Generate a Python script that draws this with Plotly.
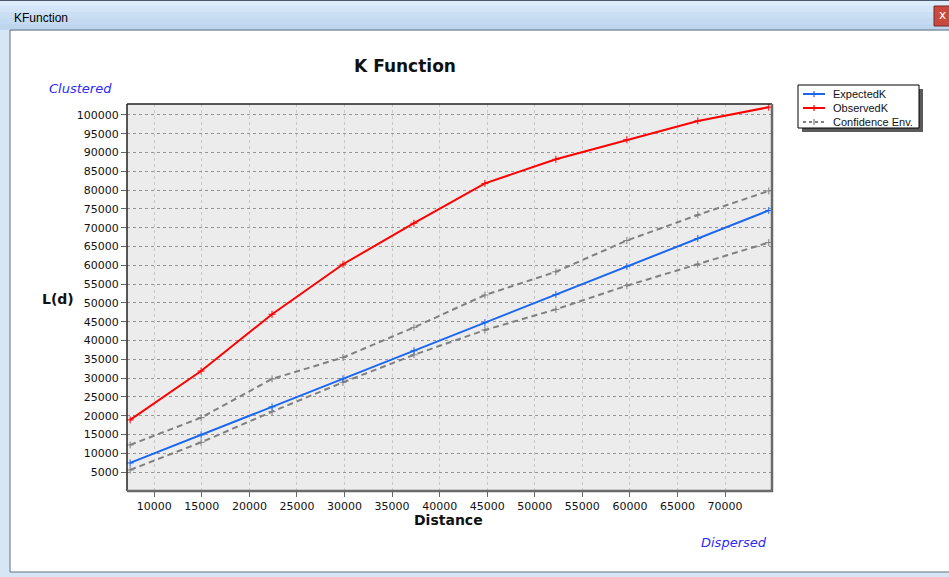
import plotly.graph_objects as go

# ---- data: L(d) against distance ----
distance = [7460, 14920, 22380, 29840, 37300, 44760, 52220, 59680, 67140, 74600]
expected_k = [7460, 14920, 22380, 29840, 37300, 44760, 52220, 59680, 67140, 74600]
observed_k = [18900, 31900, 47000, 60300, 71200, 81800, 88200, 93400, 98400, 102050]
conf_upper = [12250, 19500, 29800, 35500, 43500, 52100, 58300, 66600, 73400, 79800]
conf_lower = [5600, 12950, 21100, 28900, 36200, 42800, 48300, 54600, 60300, 66050]

x_ticks = list(range(10000, 70001, 5000))
y_ticks = list(range(5000, 100001, 5000))

W, H = 949, 577
L, R, T, B = 127, 772, 104, 491
PW, PH = R - L, B - T


def px(x):
    return (x - L) / PW


def py(y):
    return (B - y) / PH


BLUE = "#1a66ee"
RED = "#ff0000"
GREY = "#808080"
TXT = "#111111"

fig = go.Figure()


def add_series(y, color, name, dash="solid"):
    fig.add_trace(go.Scatter(
        x=distance, y=y, name=name, mode="lines+markers",
        line=dict(color=color, width=2, dash=dash),
        marker=dict(symbol="cross-thin", size=5, line=dict(color=color, width=1)),
        showlegend=False, cliponaxis=False,
    ))


add_series(conf_upper, GREY, "Confidence Env.", "6px,4px")
add_series(conf_lower, GREY, "Confidence Env.", "6px,4px")
add_series(expected_k, BLUE, "ExpectedK")
add_series(observed_k, RED, "ObservedK")

shapes = []


def rect(x0, y0, x1, y1, fill=None, line=None, lw=1, layer="above"):
    shapes.append(dict(
        type="rect", xref="paper", yref="paper",
        x0=px(x0), x1=px(x1), y0=py(y1), y1=py(y0),
        fillcolor=fill if fill else "rgba(0,0,0,0)",
        line=dict(color=line if line else "rgba(0,0,0,0)", width=lw if line else 0),
        layer=layer,
    ))


def hline(x0, x1, y, color, lw=1, dash="solid"):
    shapes.append(dict(type="line", xref="paper", yref="paper",
                       x0=px(x0), x1=px(x1), y0=py(y), y1=py(y),
                       line=dict(color=color, width=lw, dash=dash)))


def vline(x, y0, y1, color, lw=1):
    shapes.append(dict(type="line", xref="paper", yref="paper",
                       x0=px(x), x1=px(x), y0=py(y0), y1=py(y1),
                       line=dict(color=color, width=lw)))


# window frame and title bar
bands = ["#dcebf9", "#d3e5f6", "#cadff3", "#c3daf0", "#bdd5ed"]
bh = 30 / len(bands)
for i, c in enumerate(bands):
    rect(0, i * bh, W, (i + 1) * bh + 0.5, fill=c)
hline(0, W, 0.5, "#4a5a6a")
rect(0, 30, 10, H, fill="#d6e6f5")
rect(0, 572, W, H, fill="#d6e6f5")
rect(10, 30, W + 5, 572, line="#5f6f80", lw=1)
rect(934, 6, W + 5, 26, fill="#c9493f", line="#7a2a24", lw=1)

# plot border
hline(L, R, T, "#222222", 1.5)
vline(L, T, B, "#222222", 1.5)
vline(R, T, B + 1, "#6a6a6a", 2.5)
hline(L, R + 1, B, "#6a6a6a", 2.5)

# legend box with drop shadow
rect(802, 89, 923, 132, fill="#5a5a5a")
rect(798, 85, 919, 128, fill="#ffffff", line="#000000", lw=1)
leg = [("ExpectedK", BLUE, "solid", 94), ("ObservedK", RED, "solid", 108),
       ("Confidence Env.", GREY, "3px,3px", 122)]
for _, col, dsh, yy in leg:
    hline(803, 825, yy, col, 2, dsh)
    vline(814, yy - 3, yy + 3, col, 1.2)

annotations = [
    dict(text="<b>L(d)</b>", x=px(58), y=py(299), font=dict(size=14, color=TXT, family="DejaVu Sans")),
    dict(text="<b>Distance</b>", x=px(448), y=py(520), font=dict(size=14, color=TXT, family="DejaVu Sans")),
    dict(text="<i>Clustered</i>", x=px(80), y=py(89), font=dict(size=13, color="#2b2bf2", family="DejaVu Sans")),
    dict(text="<i>Dispersed</i>", x=px(734), y=py(542), font=dict(size=13, color="#2b2bf2", family="DejaVu Sans")),
    dict(text="KFunction", x=px(12), y=py(18), xanchor="left",
         font=dict(size=12, color="#000000", family="Liberation Sans")),
    dict(text="x", x=px(942), y=py(15), font=dict(size=12, color="#ffffff", family="DejaVu Sans")),
]
for name, col, _, yy in leg:
    annotations.append(dict(text=name, x=px(831), y=py(yy), xanchor="left",
                            font=dict(size=11, color=TXT, family="Liberation Sans")))
for a in annotations:
    a.setdefault("xanchor", "center")
    a.update(xref="paper", yref="paper", yanchor="middle", showarrow=False)

fig.update_layout(
    width=W, height=H, autosize=False,
    margin=dict(l=L, r=W - R, t=T, b=H - B, pad=0),
    paper_bgcolor="#ffffff", plot_bgcolor="#ececec",
    title=dict(text="<b>K Function</b>", x=405 / W, xref="container", xanchor="center",
               y=1 - 66 / H, yref="container", yanchor="middle",
               font=dict(size=17, color=TXT, family="DejaVu Sans")),
    font=dict(family="DejaVu Sans", size=11, color=TXT),
    shapes=shapes, annotations=annotations,
    xaxis=dict(range=[7130, 74940], tickvals=x_ticks, ticktext=[str(v) for v in x_ticks],
               ticks="outside", ticklen=5, tickcolor="#666666", showline=False, zeroline=False,
               showgrid=True, gridcolor="#c8c8c8", griddash="dot", gridwidth=1,
               tickfont=dict(size=11, color=TXT, family="DejaVu Sans")),
    yaxis=dict(range=[0, 102900], tickvals=y_ticks, ticktext=[str(v) for v in y_ticks],
               ticks="outside", ticklen=5, tickcolor="#666666", showline=False, zeroline=False,
               showgrid=True, gridcolor="#959595", griddash="dot", gridwidth=1,
               tickfont=dict(size=11, color=TXT, family="DejaVu Sans")),
)

fig.write_html("out.html")
